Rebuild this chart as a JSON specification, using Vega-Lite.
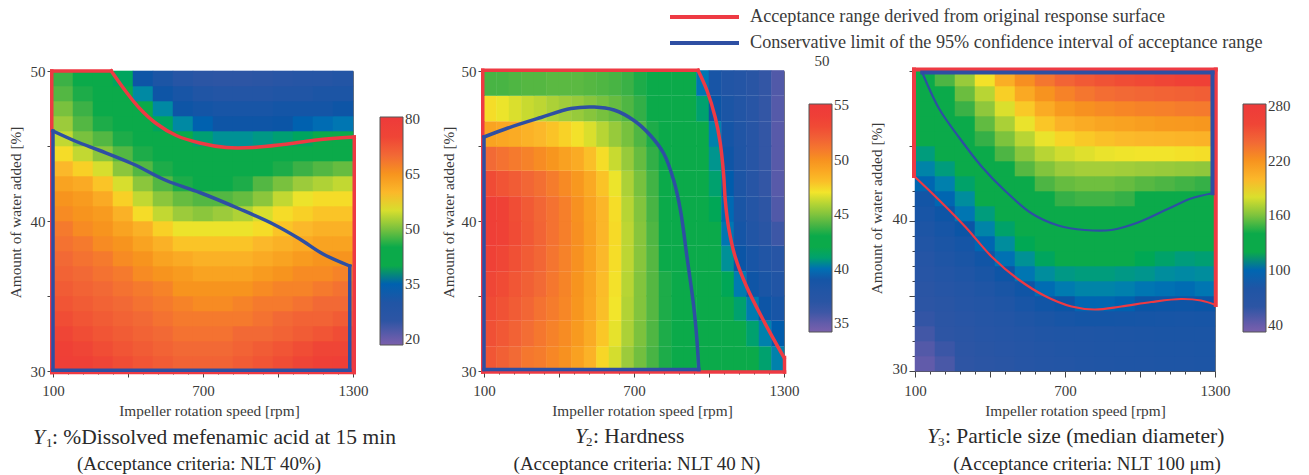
{"$schema":"https://vega.github.io/schema/vega-lite/v6.json","padding":{"left":7,"top":8,"right":0,"bottom":0},"bounds":"flush","spacing":131,"background":"white","resolve":{"scale":{"fill":"independent","stroke":"independent","x":"independent","y":"independent"},"legend":{"fill":"independent","stroke":"independent"}},"config":{"view":{"stroke":"#777"},"font":"Liberation Serif","axis":{"grid":false,"labelFont":"Liberation Serif","titleFont":"Liberation Serif","labelColor":"#3a3a3a","titleColor":"#3a3a3a","tickColor":"#444","domainColor":"#555","labelFontSize":15,"titleFontSize":15.3,"titleFontWeight":"normal","labelOverlap":false,"labelFlush":false,"tickCount":60},"legend":{"labelFont":"Liberation Serif","labelColor":"#3a3a3a","labelFontSize":15,"gradientLength":228,"gradientThickness":23,"gradientStrokeColor":"#555","gradientStrokeWidth":1,"labelOffset":5,"labelOverlap":false}},"hconcat":[
{"width":300,"height":300,"layer":[
{"data":{"values":[
{"x":140,"y":30.5,"v":77},{"x":220,"y":30.5,"v":76},{"x":300,"y":30.5,"v":75},{"x":380,"y":30.5,"v":74},{"x":460,"y":30.5,"v":73},{"x":540,"y":30.5,"v":72},{"x":620,"y":30.5,"v":71},{"x":700,"y":30.5,"v":71},{"x":780,"y":30.5,"v":71},{"x":860,"y":30.5,"v":72},{"x":940,"y":30.5,"v":73},{"x":1020,"y":30.5,"v":74},{"x":1100,"y":30.5,"v":75},{"x":1180,"y":30.5,"v":76},{"x":1260,"y":30.5,"v":77},
{"x":140,"y":31.5,"v":76},{"x":220,"y":31.5,"v":75},{"x":300,"y":31.5,"v":74},{"x":380,"y":31.5,"v":73},{"x":460,"y":31.5,"v":72},{"x":540,"y":31.5,"v":71},{"x":620,"y":31.5,"v":70},{"x":700,"y":31.5,"v":70},{"x":780,"y":31.5,"v":70},{"x":860,"y":31.5,"v":71},{"x":940,"y":31.5,"v":72},{"x":1020,"y":31.5,"v":73},{"x":1100,"y":31.5,"v":74},{"x":1180,"y":31.5,"v":75},{"x":1260,"y":31.5,"v":75},
{"x":140,"y":32.5,"v":75},{"x":220,"y":32.5,"v":74},{"x":300,"y":32.5,"v":73},{"x":380,"y":32.5,"v":72},{"x":460,"y":32.5,"v":71},{"x":540,"y":32.5,"v":70},{"x":620,"y":32.5,"v":69},{"x":700,"y":32.5,"v":69},{"x":780,"y":32.5,"v":69},{"x":860,"y":32.5,"v":70},{"x":940,"y":32.5,"v":70},{"x":1020,"y":32.5,"v":71},{"x":1100,"y":32.5,"v":72},{"x":1180,"y":32.5,"v":73},{"x":1260,"y":32.5,"v":74},
{"x":140,"y":33.5,"v":74},{"x":220,"y":33.5,"v":73},{"x":300,"y":33.5,"v":72},{"x":380,"y":33.5,"v":71},{"x":460,"y":33.5,"v":70},{"x":540,"y":33.5,"v":69},{"x":620,"y":33.5,"v":68},{"x":700,"y":33.5,"v":68},{"x":780,"y":33.5,"v":68},{"x":860,"y":33.5,"v":68},{"x":940,"y":33.5,"v":69},{"x":1020,"y":33.5,"v":70},{"x":1100,"y":33.5,"v":71},{"x":1180,"y":33.5,"v":71},{"x":1260,"y":33.5,"v":72},
{"x":140,"y":34.5,"v":73},{"x":220,"y":34.5,"v":72},{"x":300,"y":34.5,"v":71},{"x":380,"y":34.5,"v":70},{"x":460,"y":34.5,"v":69},{"x":540,"y":34.5,"v":68},{"x":620,"y":34.5,"v":67},{"x":700,"y":34.5,"v":66},{"x":780,"y":34.5,"v":66},{"x":860,"y":34.5,"v":67},{"x":940,"y":34.5,"v":68},{"x":1020,"y":34.5,"v":68},{"x":1100,"y":34.5,"v":69},{"x":1180,"y":34.5,"v":70},{"x":1260,"y":34.5,"v":70},
{"x":140,"y":35.5,"v":72},{"x":220,"y":35.5,"v":71},{"x":300,"y":35.5,"v":70},{"x":380,"y":35.5,"v":69},{"x":460,"y":35.5,"v":68},{"x":540,"y":35.5,"v":67},{"x":620,"y":35.5,"v":65},{"x":700,"y":35.5,"v":65},{"x":780,"y":35.5,"v":65},{"x":860,"y":35.5,"v":65},{"x":940,"y":35.5,"v":66},{"x":1020,"y":35.5,"v":67},{"x":1100,"y":35.5,"v":67},{"x":1180,"y":35.5,"v":68},{"x":1260,"y":35.5,"v":69},
{"x":140,"y":36.5,"v":71},{"x":220,"y":36.5,"v":70},{"x":300,"y":36.5,"v":69},{"x":380,"y":36.5,"v":68},{"x":460,"y":36.5,"v":66},{"x":540,"y":36.5,"v":65},{"x":620,"y":36.5,"v":64},{"x":700,"y":36.5,"v":63},{"x":780,"y":36.5,"v":63},{"x":860,"y":36.5,"v":63},{"x":940,"y":36.5,"v":64},{"x":1020,"y":36.5,"v":65},{"x":1100,"y":36.5,"v":66},{"x":1180,"y":36.5,"v":66},{"x":1260,"y":36.5,"v":67},
{"x":140,"y":37.5,"v":70},{"x":220,"y":37.5,"v":69},{"x":300,"y":37.5,"v":68},{"x":380,"y":37.5,"v":66},{"x":460,"y":37.5,"v":65},{"x":540,"y":37.5,"v":63},{"x":620,"y":37.5,"v":62},{"x":700,"y":37.5,"v":61},{"x":780,"y":37.5,"v":61},{"x":860,"y":37.5,"v":61},{"x":940,"y":37.5,"v":62},{"x":1020,"y":37.5,"v":63},{"x":1100,"y":37.5,"v":64},{"x":1180,"y":37.5,"v":65},{"x":1260,"y":37.5,"v":65},
{"x":140,"y":38.5,"v":69},{"x":220,"y":38.5,"v":68},{"x":300,"y":38.5,"v":66},{"x":380,"y":38.5,"v":65},{"x":460,"y":38.5,"v":63},{"x":540,"y":38.5,"v":61},{"x":620,"y":38.5,"v":59},{"x":700,"y":38.5,"v":59},{"x":780,"y":38.5,"v":59},{"x":860,"y":38.5,"v":59},{"x":940,"y":38.5,"v":60},{"x":1020,"y":38.5,"v":61},{"x":1100,"y":38.5,"v":62},{"x":1180,"y":38.5,"v":63},{"x":1260,"y":38.5,"v":63},
{"x":140,"y":39.5,"v":68},{"x":220,"y":39.5,"v":66},{"x":300,"y":39.5,"v":65},{"x":380,"y":39.5,"v":63},{"x":460,"y":39.5,"v":61},{"x":540,"y":39.5,"v":58},{"x":620,"y":39.5,"v":56},{"x":700,"y":39.5,"v":56},{"x":780,"y":39.5,"v":56},{"x":860,"y":39.5,"v":56},{"x":940,"y":39.5,"v":57},{"x":1020,"y":39.5,"v":59},{"x":1100,"y":39.5,"v":60},{"x":1180,"y":39.5,"v":61},{"x":1260,"y":39.5,"v":61},
{"x":140,"y":40.5,"v":66},{"x":220,"y":40.5,"v":65},{"x":300,"y":40.5,"v":64},{"x":380,"y":40.5,"v":61},{"x":460,"y":40.5,"v":57},{"x":540,"y":40.5,"v":54},{"x":620,"y":40.5,"v":52},{"x":700,"y":40.5,"v":51},{"x":780,"y":40.5,"v":52},{"x":860,"y":40.5,"v":53},{"x":940,"y":40.5,"v":55},{"x":1020,"y":40.5,"v":57},{"x":1100,"y":40.5,"v":58},{"x":1180,"y":40.5,"v":59},{"x":1260,"y":40.5,"v":59},
{"x":140,"y":41.5,"v":65},{"x":220,"y":41.5,"v":64},{"x":300,"y":41.5,"v":62},{"x":380,"y":41.5,"v":58},{"x":460,"y":41.5,"v":54},{"x":540,"y":41.5,"v":51},{"x":620,"y":41.5,"v":49},{"x":700,"y":41.5,"v":48},{"x":780,"y":41.5,"v":48},{"x":860,"y":41.5,"v":49},{"x":940,"y":41.5,"v":51},{"x":1020,"y":41.5,"v":54},{"x":1100,"y":41.5,"v":56},{"x":1180,"y":41.5,"v":57},{"x":1260,"y":41.5,"v":57},
{"x":140,"y":42.5,"v":63},{"x":220,"y":42.5,"v":62},{"x":300,"y":42.5,"v":59},{"x":380,"y":42.5,"v":55},{"x":460,"y":42.5,"v":51},{"x":540,"y":42.5,"v":48},{"x":620,"y":42.5,"v":46},{"x":700,"y":42.5,"v":45},{"x":780,"y":42.5,"v":45},{"x":860,"y":42.5,"v":46},{"x":940,"y":42.5,"v":48},{"x":1020,"y":42.5,"v":50},{"x":1100,"y":42.5,"v":52},{"x":1180,"y":42.5,"v":53},{"x":1260,"y":42.5,"v":54},
{"x":140,"y":43.5,"v":60},{"x":220,"y":43.5,"v":58},{"x":300,"y":43.5,"v":55},{"x":380,"y":43.5,"v":51},{"x":460,"y":43.5,"v":48},{"x":540,"y":43.5,"v":46},{"x":620,"y":43.5,"v":44},{"x":700,"y":43.5,"v":44},{"x":780,"y":43.5,"v":44},{"x":860,"y":43.5,"v":44},{"x":940,"y":43.5,"v":45},{"x":1020,"y":43.5,"v":46},{"x":1100,"y":43.5,"v":47},{"x":1180,"y":43.5,"v":48},{"x":1260,"y":43.5,"v":49},
{"x":140,"y":44.5,"v":57},{"x":220,"y":44.5,"v":54},{"x":300,"y":44.5,"v":51},{"x":380,"y":44.5,"v":48},{"x":460,"y":44.5,"v":46},{"x":540,"y":44.5,"v":45},{"x":620,"y":44.5,"v":44},{"x":700,"y":44.5,"v":42},{"x":780,"y":44.5,"v":41},{"x":860,"y":44.5,"v":41},{"x":940,"y":44.5,"v":41},{"x":1020,"y":44.5,"v":42},{"x":1100,"y":44.5,"v":42},{"x":1180,"y":44.5,"v":42},{"x":1260,"y":44.5,"v":43},
{"x":140,"y":45.5,"v":54},{"x":220,"y":45.5,"v":50},{"x":300,"y":45.5,"v":48},{"x":380,"y":45.5,"v":46},{"x":460,"y":45.5,"v":45},{"x":540,"y":45.5,"v":42},{"x":620,"y":45.5,"v":40},{"x":700,"y":45.5,"v":38.5},{"x":780,"y":45.5,"v":37.5},{"x":860,"y":45.5,"v":37.5},{"x":940,"y":45.5,"v":38},{"x":1020,"y":45.5,"v":38.5},{"x":1100,"y":45.5,"v":39},{"x":1180,"y":45.5,"v":39.5},{"x":1260,"y":45.5,"v":39.5},
{"x":140,"y":46.5,"v":52},{"x":220,"y":46.5,"v":48},{"x":300,"y":46.5,"v":46},{"x":380,"y":46.5,"v":44},{"x":460,"y":46.5,"v":43},{"x":540,"y":46.5,"v":39},{"x":620,"y":46.5,"v":37},{"x":700,"y":46.5,"v":35},{"x":780,"y":46.5,"v":34},{"x":860,"y":46.5,"v":34},{"x":940,"y":46.5,"v":34},{"x":1020,"y":46.5,"v":34.5},{"x":1100,"y":46.5,"v":35},{"x":1180,"y":46.5,"v":35.5},{"x":1260,"y":46.5,"v":36},
{"x":140,"y":47.5,"v":50},{"x":220,"y":47.5,"v":47},{"x":300,"y":47.5,"v":45},{"x":380,"y":47.5,"v":44},{"x":460,"y":47.5,"v":40},{"x":540,"y":47.5,"v":37},{"x":620,"y":47.5,"v":34},{"x":700,"y":47.5,"v":33},{"x":780,"y":47.5,"v":32},{"x":860,"y":47.5,"v":32},{"x":940,"y":47.5,"v":32},{"x":1020,"y":47.5,"v":33},{"x":1100,"y":47.5,"v":33},{"x":1180,"y":47.5,"v":33},{"x":1260,"y":47.5,"v":34},
{"x":140,"y":48.5,"v":48},{"x":220,"y":48.5,"v":46},{"x":300,"y":48.5,"v":44},{"x":380,"y":48.5,"v":42},{"x":460,"y":48.5,"v":37},{"x":540,"y":48.5,"v":34},{"x":620,"y":48.5,"v":32},{"x":700,"y":48.5,"v":30},{"x":780,"y":48.5,"v":29},{"x":860,"y":48.5,"v":29},{"x":940,"y":48.5,"v":29},{"x":1020,"y":48.5,"v":30},{"x":1100,"y":48.5,"v":30},{"x":1180,"y":48.5,"v":31},{"x":1260,"y":48.5,"v":31},
{"x":140,"y":49.5,"v":47},{"x":220,"y":49.5,"v":45},{"x":300,"y":49.5,"v":43},{"x":380,"y":49.5,"v":39},{"x":460,"y":49.5,"v":34},{"x":540,"y":49.5,"v":31},{"x":620,"y":49.5,"v":28},{"x":700,"y":49.5,"v":26},{"x":780,"y":49.5,"v":25},{"x":860,"y":49.5,"v":25},{"x":940,"y":49.5,"v":26},{"x":1020,"y":49.5,"v":27},{"x":1100,"y":49.5,"v":28},{"x":1180,"y":49.5,"v":28},{"x":1260,"y":49.5,"v":29}
]},"mark":{"type":"rect","width":20.5,"height":15.6},"encoding":{"x":{"field":"x","type":"quantitative","scale":{"domain":[100,1300],"nice":false,"zero":false},"axis":{"title":"Impeller rotation speed [rpm]","titleX":156,"values":[100,160,220,280,340,400,460,520,580,640,700,760,820,880,940,1000,1060,1120,1180,1240,1300],"labelOverlap":false,"labelExpr":"datum.value==100||datum.value==700||datum.value==1300?datum.label:''","format":"d","tickSize":{"condition":{"test":"(datum.value-100)%300==0","value":6},"value":3},"labelPadding":6,"titlePadding":5}},"y":{"field":"y","type":"quantitative","scale":{"domain":[30,50],"nice":false,"zero":false},"axis":{"title":"Amount of water added [%]","format":"d","values":[30,31,32,33,34,35,36,37,38,39,40,41,42,43,44,45,46,47,48,49,50],"labelOverlap":false,"labelExpr":"datum.value%10==0?datum.label:''","tickSize":{"condition":{"test":"datum.value%5==0","value":6},"value":3},"labelPadding":2,"titleX":-30,"titleY":141}},"fill":{"field":"v","type":"quantitative","scale":{"domain":[18.4,24.6,34.5,39.5,45.7,52,56.3,60,65,69.9,75.5,80.5],"range":["#7A60AC","#2E55A4","#0B55A6","#0BAA4A","#0BAA4A","#9CCB3B","#F2E52B","#FBB82A","#F7941E","#F26A35","#EF4136","#EE3A3A"]},"legend":{"title":null,"orient":"none","legendX":327,"legendY":46,"values":[20,35,50,65,80]}}}},
{"data":{"values":[
{"s":"r","g":"e1","o":0,"x":95,"y":29.9},{"s":"r","g":"e1","o":1,"x":95,"y":50},{"s":"r","g":"e2","o":2,"x":95,"y":50},{"s":"r","g":"e2","o":3,"x":333,"y":50},{"s":"r","g":"c","o":4,"x":333,"y":50},{"s":"r","g":"c","o":5,"x":393,"y":48.6},{"s":"r","g":"c","o":6,"x":447,"y":47.5},{"s":"r","g":"c","o":7,"x":513,"y":46.5},{"s":"r","g":"c","o":8,"x":593,"y":45.7},{"s":"r","g":"c","o":9,"x":687,"y":45.2},{"s":"r","g":"c","o":10,"x":793,"y":44.9},{"s":"r","g":"c","o":11,"x":900,"y":44.9},{"s":"r","g":"c","o":12,"x":1020,"y":45.1},{"s":"r","g":"c","o":13,"x":1153,"y":45.4},{"s":"r","g":"c","o":14,"x":1305,"y":45.6},{"s":"r","g":"e3","o":15,"x":1305,"y":45.6},{"s":"r","g":"e3","o":16,"x":1305,"y":29.9},{"s":"r","g":"e4","o":17,"x":1305,"y":29.9},{"s":"r","g":"e4","o":18,"x":95,"y":29.9},
{"s":"b","g":"e1","o":0,"x":100,"y":30.05},{"s":"b","g":"e1","o":1,"x":100,"y":46},{"s":"b","g":"c","o":2,"x":100,"y":46},{"s":"b","g":"c","o":3,"x":193,"y":45.3},{"s":"b","g":"c","o":4,"x":287,"y":44.7},{"s":"b","g":"c","o":5,"x":420,"y":43.8},{"s":"b","g":"c","o":6,"x":553,"y":42.7},{"s":"b","g":"c","o":7,"x":687,"y":41.9},{"s":"b","g":"c","o":8,"x":847,"y":40.8},{"s":"b","g":"c","o":9,"x":980,"y":39.8},{"s":"b","g":"c","o":10,"x":1087,"y":38.8},{"s":"b","g":"c","o":11,"x":1180,"y":37.8},{"s":"b","g":"c","o":12,"x":1287,"y":37},{"s":"b","g":"e2","o":13,"x":1287,"y":37},{"s":"b","g":"e2","o":14,"x":1287,"y":30.05},{"s":"b","g":"e3","o":15,"x":1287,"y":30.05},{"s":"b","g":"e3","o":16,"x":100,"y":30.05}
]},"mark":{"type":"line","strokeWidth":3.5,"strokeCap":"square","interpolate":"catmull-rom"},"encoding":{"x":{"field":"x","type":"quantitative"},"y":{"field":"y","type":"quantitative"},"order":{"field":"o"},"detail":{"field":"g"},"stroke":{"field":"s","type":"nominal","scale":{"domain":["r","b"],"range":["#EE3A43","#2E4FA3"]},"legend":null}}},
{"data":{"values":[{"x":20,"y":25.53,"t":"Y"}]},"mark":{"type":"text","font":"Liberation Serif","fontSize":21.5,"fontStyle":"italic","align":"left","color":"#2a2a2a"},"encoding":{"x":{"field":"x","type":"quantitative"},"y":{"field":"y","type":"quantitative"},"text":{"field":"t"}}},
{"data":{"values":[{"x":72,"y":25.2,"t":"1"}]},"mark":{"type":"text","font":"Liberation Serif","fontSize":13,"align":"left","color":"#2a2a2a"},"encoding":{"x":{"field":"x","type":"quantitative"},"y":{"field":"y","type":"quantitative"},"text":{"field":"t"}}},
{"data":{"values":[{"x":96,"y":25.53,"t":": %Dissolved mefenamic acid at 15 min"}]},"mark":{"type":"text","font":"Liberation Serif","fontSize":21.5,"align":"left","color":"#2a2a2a"},"encoding":{"x":{"field":"x","type":"quantitative"},"y":{"field":"y","type":"quantitative"},"text":{"field":"t"}}},
{"data":{"values":[{"x":684,"y":23.8,"t":"(Acceptance criteria: NLT 40%)"}]},"mark":{"type":"text","font":"Liberation Serif","fontSize":19,"align":"center","color":"#2a2a2a"},"encoding":{"x":{"field":"x","type":"quantitative"},"y":{"field":"y","type":"quantitative"},"text":{"field":"t"}}}
]},
{"width":300,"height":300,"layer":[
{"data":{"values":[
{"x":125,"y":30.8,"v":52.5},{"x":175,"y":30.8,"v":52},{"x":225,"y":30.8,"v":51.5},{"x":275,"y":30.8,"v":51},{"x":325,"y":30.8,"v":50.8},{"x":375,"y":30.8,"v":50.4},{"x":425,"y":30.8,"v":50},{"x":475,"y":30.8,"v":49.3},{"x":525,"y":30.8,"v":48.5},{"x":575,"y":30.8,"v":47.4},{"x":625,"y":30.8,"v":46.5},{"x":675,"y":30.8,"v":45.5},{"x":725,"y":30.8,"v":44.7},{"x":775,"y":30.8,"v":44},{"x":825,"y":30.8,"v":43.5},{"x":875,"y":30.8,"v":43.3},{"x":925,"y":30.8,"v":43.2},{"x":975,"y":30.8,"v":43},{"x":1025,"y":30.8,"v":42.8},{"x":1075,"y":30.8,"v":42.5},{"x":1125,"y":30.8,"v":42},{"x":1175,"y":30.8,"v":41.6},{"x":1225,"y":30.8,"v":41},{"x":1275,"y":30.8,"v":40.3},
{"x":125,"y":32.5,"v":52.8},{"x":175,"y":32.5,"v":52.4},{"x":225,"y":32.5,"v":51.9},{"x":275,"y":32.5,"v":51.4},{"x":325,"y":32.5,"v":51},{"x":375,"y":32.5,"v":50.6},{"x":425,"y":32.5,"v":50.2},{"x":475,"y":32.5,"v":49.6},{"x":525,"y":32.5,"v":48.8},{"x":575,"y":32.5,"v":47.8},{"x":625,"y":32.5,"v":46.8},{"x":675,"y":32.5,"v":45.8},{"x":725,"y":32.5,"v":44.9},{"x":775,"y":32.5,"v":44.1},{"x":825,"y":32.5,"v":43.5},{"x":875,"y":32.5,"v":43.2},{"x":925,"y":32.5,"v":43},{"x":975,"y":32.5,"v":42.8},{"x":1025,"y":32.5,"v":42.4},{"x":1075,"y":32.5,"v":42.2},{"x":1125,"y":32.5,"v":41.8},{"x":1175,"y":32.5,"v":41},{"x":1225,"y":32.5,"v":40.3},{"x":1275,"y":32.5,"v":39.7},
{"x":125,"y":34.2,"v":53},{"x":175,"y":34.2,"v":52.7},{"x":225,"y":34.2,"v":52.2},{"x":275,"y":34.2,"v":51.7},{"x":325,"y":34.2,"v":51.2},{"x":375,"y":34.2,"v":50.8},{"x":425,"y":34.2,"v":50.4},{"x":475,"y":34.2,"v":49.8},{"x":525,"y":34.2,"v":49},{"x":575,"y":34.2,"v":48},{"x":625,"y":34.2,"v":47},{"x":675,"y":34.2,"v":45.9},{"x":725,"y":34.2,"v":45},{"x":775,"y":34.2,"v":44.2},{"x":825,"y":34.2,"v":43.5},{"x":875,"y":34.2,"v":43.1},{"x":925,"y":34.2,"v":42.8},{"x":975,"y":34.2,"v":42.5},{"x":1025,"y":34.2,"v":42.2},{"x":1075,"y":34.2,"v":41.6},{"x":1125,"y":34.2,"v":41},{"x":1175,"y":34.2,"v":40.2},{"x":1225,"y":34.2,"v":39.5},{"x":1275,"y":34.2,"v":38.8},
{"x":125,"y":35.8,"v":53.2},{"x":175,"y":35.8,"v":53},{"x":225,"y":35.8,"v":52.5},{"x":275,"y":35.8,"v":52},{"x":325,"y":35.8,"v":51.5},{"x":375,"y":35.8,"v":51},{"x":425,"y":35.8,"v":50.5},{"x":475,"y":35.8,"v":49.9},{"x":525,"y":35.8,"v":49.1},{"x":575,"y":35.8,"v":48.1},{"x":625,"y":35.8,"v":47.1},{"x":675,"y":35.8,"v":46},{"x":725,"y":35.8,"v":45},{"x":775,"y":35.8,"v":44.2},{"x":825,"y":35.8,"v":43.5},{"x":875,"y":35.8,"v":43},{"x":925,"y":35.8,"v":42.7},{"x":975,"y":35.8,"v":42.4},{"x":1025,"y":35.8,"v":42},{"x":1075,"y":35.8,"v":41.2},{"x":1125,"y":35.8,"v":40.2},{"x":1175,"y":35.8,"v":39.4},{"x":1225,"y":35.8,"v":38.6},{"x":1275,"y":35.8,"v":38},
{"x":125,"y":37.5,"v":53.5},{"x":175,"y":37.5,"v":53.2},{"x":225,"y":37.5,"v":52.8},{"x":275,"y":37.5,"v":52.2},{"x":325,"y":37.5,"v":51.7},{"x":375,"y":37.5,"v":51.1},{"x":425,"y":37.5,"v":50.6},{"x":475,"y":37.5,"v":50},{"x":525,"y":37.5,"v":49.2},{"x":575,"y":37.5,"v":48.2},{"x":625,"y":37.5,"v":47.2},{"x":675,"y":37.5,"v":46.1},{"x":725,"y":37.5,"v":45.1},{"x":775,"y":37.5,"v":44.2},{"x":825,"y":37.5,"v":43.4},{"x":875,"y":37.5,"v":43},{"x":925,"y":37.5,"v":42.6},{"x":975,"y":37.5,"v":42.2},{"x":1025,"y":37.5,"v":41.6},{"x":1075,"y":37.5,"v":40.6},{"x":1125,"y":37.5,"v":39.6},{"x":1175,"y":37.5,"v":38.8},{"x":1225,"y":37.5,"v":38},{"x":1275,"y":37.5,"v":37.2},
{"x":125,"y":39.2,"v":53.8},{"x":175,"y":39.2,"v":53.5},{"x":225,"y":39.2,"v":53},{"x":275,"y":39.2,"v":52.4},{"x":325,"y":39.2,"v":51.8},{"x":375,"y":39.2,"v":51.2},{"x":425,"y":39.2,"v":50.7},{"x":475,"y":39.2,"v":50.1},{"x":525,"y":39.2,"v":49.3},{"x":575,"y":39.2,"v":48.3},{"x":625,"y":39.2,"v":47.3},{"x":675,"y":39.2,"v":46.1},{"x":725,"y":39.2,"v":45.1},{"x":775,"y":39.2,"v":44.1},{"x":825,"y":39.2,"v":43.4},{"x":875,"y":39.2,"v":42.9},{"x":925,"y":39.2,"v":42.5},{"x":975,"y":39.2,"v":42},{"x":1025,"y":39.2,"v":41.4},{"x":1075,"y":39.2,"v":40.1},{"x":1125,"y":39.2,"v":39},{"x":1175,"y":39.2,"v":38},{"x":1225,"y":39.2,"v":37},{"x":1275,"y":39.2,"v":36},
{"x":125,"y":40.8,"v":53.8},{"x":175,"y":40.8,"v":53.4},{"x":225,"y":40.8,"v":52.9},{"x":275,"y":40.8,"v":52.3},{"x":325,"y":40.8,"v":51.7},{"x":375,"y":40.8,"v":51.2},{"x":425,"y":40.8,"v":50.7},{"x":475,"y":40.8,"v":50},{"x":525,"y":40.8,"v":49.2},{"x":575,"y":40.8,"v":48.3},{"x":625,"y":40.8,"v":47.2},{"x":675,"y":40.8,"v":46},{"x":725,"y":40.8,"v":45},{"x":775,"y":40.8,"v":44},{"x":825,"y":40.8,"v":43.3},{"x":875,"y":40.8,"v":42.8},{"x":925,"y":40.8,"v":42.3},{"x":975,"y":40.8,"v":41.9},{"x":1025,"y":40.8,"v":41.2},{"x":1075,"y":40.8,"v":39.9},{"x":1125,"y":40.8,"v":38.6},{"x":1175,"y":40.8,"v":37.6},{"x":1225,"y":40.8,"v":36.4},{"x":1275,"y":40.8,"v":35.5},
{"x":125,"y":42.5,"v":53},{"x":175,"y":42.5,"v":52.6},{"x":225,"y":42.5,"v":52.2},{"x":275,"y":42.5,"v":51.7},{"x":325,"y":42.5,"v":51.3},{"x":375,"y":42.5,"v":50.8},{"x":425,"y":42.5,"v":50.3},{"x":475,"y":42.5,"v":49.7},{"x":525,"y":42.5,"v":48.9},{"x":575,"y":42.5,"v":47.9},{"x":625,"y":42.5,"v":46.9},{"x":675,"y":42.5,"v":45.8},{"x":725,"y":42.5,"v":44.8},{"x":775,"y":42.5,"v":43.9},{"x":825,"y":42.5,"v":43.2},{"x":875,"y":42.5,"v":42.7},{"x":925,"y":42.5,"v":42.2},{"x":975,"y":42.5,"v":41.8},{"x":1025,"y":42.5,"v":41},{"x":1075,"y":42.5,"v":39.7},{"x":1125,"y":42.5,"v":38.4},{"x":1175,"y":42.5,"v":37.3},{"x":1225,"y":42.5,"v":36.2},{"x":1275,"y":42.5,"v":35.3},
{"x":125,"y":44.2,"v":51.5},{"x":175,"y":44.2,"v":51.2},{"x":225,"y":44.2,"v":50.9},{"x":275,"y":44.2,"v":50.6},{"x":325,"y":44.2,"v":50.2},{"x":375,"y":44.2,"v":49.8},{"x":425,"y":44.2,"v":49.3},{"x":475,"y":44.2,"v":48.8},{"x":525,"y":44.2,"v":48},{"x":575,"y":44.2,"v":47.2},{"x":625,"y":44.2,"v":46.3},{"x":675,"y":44.2,"v":45.4},{"x":725,"y":44.2,"v":44.5},{"x":775,"y":44.2,"v":43.7},{"x":825,"y":44.2,"v":43.1},{"x":875,"y":44.2,"v":42.6},{"x":925,"y":44.2,"v":42.1},{"x":975,"y":44.2,"v":41.7},{"x":1025,"y":44.2,"v":40.7},{"x":1075,"y":44.2,"v":39.4},{"x":1125,"y":44.2,"v":38.2},{"x":1175,"y":44.2,"v":37.2},{"x":1225,"y":44.2,"v":36.2},{"x":1275,"y":44.2,"v":35.3},
{"x":125,"y":45.8,"v":49.2},{"x":175,"y":45.8,"v":49},{"x":225,"y":45.8,"v":48.8},{"x":275,"y":45.8,"v":48.5},{"x":325,"y":45.8,"v":48.2},{"x":375,"y":45.8,"v":47.9},{"x":425,"y":45.8,"v":47.5},{"x":475,"y":45.8,"v":47.1},{"x":525,"y":45.8,"v":46.6},{"x":575,"y":45.8,"v":46},{"x":625,"y":45.8,"v":45.4},{"x":675,"y":45.8,"v":44.8},{"x":725,"y":45.8,"v":44.1},{"x":775,"y":45.8,"v":43.5},{"x":825,"y":45.8,"v":43},{"x":875,"y":45.8,"v":42.5},{"x":925,"y":45.8,"v":42},{"x":975,"y":45.8,"v":41.5},{"x":1025,"y":45.8,"v":40.3},{"x":1075,"y":45.8,"v":39},{"x":1125,"y":45.8,"v":38.1},{"x":1175,"y":45.8,"v":37.2},{"x":1225,"y":45.8,"v":36.2},{"x":1275,"y":45.8,"v":35.3},
{"x":125,"y":47.5,"v":47.2},{"x":175,"y":47.5,"v":46.9},{"x":225,"y":47.5,"v":46.6},{"x":275,"y":47.5,"v":46.3},{"x":325,"y":47.5,"v":46.1},{"x":375,"y":47.5,"v":45.8},{"x":425,"y":47.5,"v":45.6},{"x":475,"y":47.5,"v":45.4},{"x":525,"y":47.5,"v":45.1},{"x":575,"y":47.5,"v":44.8},{"x":625,"y":47.5,"v":44.5},{"x":675,"y":47.5,"v":44.1},{"x":725,"y":47.5,"v":43.7},{"x":775,"y":47.5,"v":43.3},{"x":825,"y":47.5,"v":42.9},{"x":875,"y":47.5,"v":42.4},{"x":925,"y":47.5,"v":41.8},{"x":975,"y":47.5,"v":41},{"x":1025,"y":47.5,"v":39.6},{"x":1075,"y":47.5,"v":38.5},{"x":1125,"y":47.5,"v":37.9},{"x":1175,"y":47.5,"v":37.1},{"x":1225,"y":47.5,"v":36.2},{"x":1275,"y":47.5,"v":35.4},
{"x":125,"y":49.2,"v":44},{"x":175,"y":49.2,"v":44},{"x":225,"y":49.2,"v":44.1},{"x":275,"y":49.2,"v":44.2},{"x":325,"y":49.2,"v":44.2},{"x":375,"y":49.2,"v":44.3},{"x":425,"y":49.2,"v":44.3},{"x":475,"y":49.2,"v":44.3},{"x":525,"y":49.2,"v":44.2},{"x":575,"y":49.2,"v":44.1},{"x":625,"y":49.2,"v":44},{"x":675,"y":49.2,"v":43.8},{"x":725,"y":49.2,"v":43.5},{"x":775,"y":49.2,"v":43.2},{"x":825,"y":49.2,"v":42.8},{"x":875,"y":49.2,"v":42.2},{"x":925,"y":49.2,"v":41.5},{"x":975,"y":49.2,"v":40.1},{"x":1025,"y":49.2,"v":38.8},{"x":1075,"y":49.2,"v":38},{"x":1125,"y":49.2,"v":37.6},{"x":1175,"y":49.2,"v":37},{"x":1225,"y":49.2,"v":36.2},{"x":1275,"y":49.2,"v":35.5}
]},"mark":{"type":"rect","width":13,"height":25.6},"encoding":{"x":{"field":"x","type":"quantitative","scale":{"domain":[100,1300],"nice":false,"zero":false},"axis":{"title":"Impeller rotation speed [rpm]","titleX":158,"values":[100,160,220,280,340,400,460,520,580,640,700,760,820,880,940,1000,1060,1120,1180,1240,1300],"labelOverlap":false,"labelExpr":"datum.value==100||datum.value==700||datum.value==1300?datum.label:''","format":"d","tickSize":{"condition":{"test":"(datum.value-100)%300==0","value":6},"value":3},"labelPadding":6,"titlePadding":5}},"y":{"field":"y","type":"quantitative","scale":{"domain":[30,50],"nice":false,"zero":false},"axis":{"title":"Amount of water added [%]","format":"d","values":[30,31,32,33,34,35,36,37,38,39,40,41,42,43,44,45,46,47,48,49,50],"labelOverlap":false,"labelExpr":"datum.value%10==0?datum.label:''","tickSize":{"condition":{"test":"datum.value%5==0","value":6},"value":3},"labelPadding":2,"titleX":-28,"titleY":141}},"fill":{"field":"v","type":"quantitative","scale":{"domain":[34.2,36.3,39.6,41.3,43.4,45.5,47,48.2,49.9,51.5,53.4,55.1],"range":["#7A60AC","#2E55A4","#0B55A6","#0BAA4A","#0BAA4A","#9CCB3B","#F2E52B","#FBB82A","#F7941E","#F26A35","#EF4136","#EE3A3A"]},"legend":{"title":null,"orient":"none","legendX":325,"legendY":33,"values":[35,40,45,50,55]}}}},
{"data":{"values":[
{"s":"r","g":"e1","o":0,"x":95,"y":29.93},{"s":"r","g":"e1","o":1,"x":95,"y":50.05},{"s":"r","g":"e2","o":2,"x":95,"y":50.05},{"s":"r","g":"e2","o":3,"x":956,"y":50.05},{"s":"r","g":"c","o":4,"x":956,"y":50.05},{"s":"r","g":"c","o":5,"x":992,"y":48.7},{"s":"r","g":"c","o":6,"x":1025,"y":46.9},{"s":"r","g":"c","o":7,"x":1045,"y":45.2},{"s":"r","g":"c","o":8,"x":1058,"y":43.2},{"s":"r","g":"c","o":9,"x":1065,"y":41.4},{"s":"r","g":"c","o":10,"x":1078,"y":39.6},{"s":"r","g":"c","o":11,"x":1105,"y":37.6},{"s":"r","g":"c","o":12,"x":1151,"y":35.6},{"s":"r","g":"c","o":13,"x":1217,"y":33.4},{"s":"r","g":"c","o":14,"x":1300,"y":30.9},{"s":"r","g":"e3","o":15,"x":1302,"y":30.9},{"s":"r","g":"e3","o":16,"x":1302,"y":29.93},{"s":"r","g":"e4","o":17,"x":1302,"y":29.93},{"s":"r","g":"e4","o":18,"x":95,"y":29.93},
{"s":"b","g":"e1","o":0,"x":100,"y":30.1},{"s":"b","g":"e1","o":1,"x":100,"y":45.6},{"s":"b","g":"c","o":2,"x":100,"y":45.6},{"s":"b","g":"c","o":3,"x":196,"y":46.2},{"s":"b","g":"c","o":4,"x":328,"y":46.9},{"s":"b","g":"c","o":5,"x":448,"y":47.5},{"s":"b","g":"c","o":6,"x":541,"y":47.6},{"s":"b","g":"c","o":7,"x":620,"y":47.4},{"s":"b","g":"c","o":8,"x":700,"y":46.7},{"s":"b","g":"c","o":9,"x":766,"y":45.7},{"s":"b","g":"c","o":10,"x":819,"y":44.5},{"s":"b","g":"c","o":11,"x":859,"y":42.7},{"s":"b","g":"c","o":12,"x":886,"y":40.7},{"s":"b","g":"c","o":13,"x":912,"y":37.6},{"s":"b","g":"c","o":14,"x":939,"y":34.3},{"s":"b","g":"c","o":15,"x":952,"y":32},{"s":"b","g":"c","o":16,"x":959,"y":30.1},{"s":"b","g":"e2","o":17,"x":959,"y":30.1},{"s":"b","g":"e2","o":18,"x":100,"y":30.1}
]},"mark":{"type":"line","strokeWidth":3.5,"strokeCap":"square","interpolate":"catmull-rom"},"encoding":{"x":{"field":"x","type":"quantitative"},"y":{"field":"y","type":"quantitative"},"order":{"field":"o"},"detail":{"field":"g"},"stroke":{"field":"s","type":"nominal","scale":{"domain":["r","b"],"range":["#EE3A43","#2E4FA3"]},"legend":{"title":null,"orient":"none","legendX":184,"legendY":-62,"symbolType":"stroke","symbolSize":4761,"symbolStrokeWidth":4,"clipHeight":16,"rowPadding":7,"labelFontSize":18.2,"labelLimit":700,"labelOffset":9,"labelExpr":"datum.label=='r'?'Acceptance range derived from original response surface':'Conservative limit of the 95% confidence interval of acceptance range'"}}}},
{"data":{"values":[{"x":1452,"y":50.67,"t":"50"}]},"mark":{"type":"text","font":"Liberation Serif","fontSize":15,"color":"#3a3a3a"},"encoding":{"x":{"field":"x","type":"quantitative"},"y":{"field":"y","type":"quantitative"},"text":{"field":"t"}}},
{"data":{"values":[{"x":464,"y":25.6,"t":"Y"}]},"mark":{"type":"text","font":"Liberation Serif","fontSize":21.5,"fontStyle":"italic","align":"left","color":"#2a2a2a"},"encoding":{"x":{"field":"x","type":"quantitative"},"y":{"field":"y","type":"quantitative"},"text":{"field":"t"}}},
{"data":{"values":[{"x":508,"y":25.27,"t":"2"}]},"mark":{"type":"text","font":"Liberation Serif","fontSize":13,"align":"left","color":"#2a2a2a"},"encoding":{"x":{"field":"x","type":"quantitative"},"y":{"field":"y","type":"quantitative"},"text":{"field":"t"}}},
{"data":{"values":[{"x":536,"y":25.6,"t":": Hardness"}]},"mark":{"type":"text","font":"Liberation Serif","fontSize":21.5,"align":"left","color":"#2a2a2a"},"encoding":{"x":{"field":"x","type":"quantitative"},"y":{"field":"y","type":"quantitative"},"text":{"field":"t"}}},
{"data":{"values":[{"x":712,"y":23.8,"t":"(Acceptance criteria: NLT 40 N)"}]},"mark":{"type":"text","font":"Liberation Serif","fontSize":19,"align":"center","color":"#2a2a2a"},"encoding":{"x":{"field":"x","type":"quantitative"},"y":{"field":"y","type":"quantitative"},"text":{"field":"t"}}}
]},
{"width":300,"height":300,"layer":[
{"data":{"values":[
{"x":140,"y":30.5,"v":42},{"x":220,"y":30.5,"v":50},{"x":300,"y":30.5,"v":57},{"x":380,"y":30.5,"v":62},{"x":460,"y":30.5,"v":66},{"x":540,"y":30.5,"v":70},{"x":620,"y":30.5,"v":73},{"x":700,"y":30.5,"v":75},{"x":780,"y":30.5,"v":77},{"x":860,"y":30.5,"v":78},{"x":940,"y":30.5,"v":79},{"x":1020,"y":30.5,"v":80},{"x":1100,"y":30.5,"v":81},{"x":1180,"y":30.5,"v":81},{"x":1260,"y":30.5,"v":82},
{"x":140,"y":31.5,"v":47},{"x":220,"y":31.5,"v":54},{"x":300,"y":31.5,"v":60},{"x":380,"y":31.5,"v":65},{"x":460,"y":31.5,"v":69},{"x":540,"y":31.5,"v":72},{"x":620,"y":31.5,"v":75},{"x":700,"y":31.5,"v":77},{"x":780,"y":31.5,"v":78},{"x":860,"y":31.5,"v":79},{"x":940,"y":31.5,"v":80},{"x":1020,"y":31.5,"v":81},{"x":1100,"y":31.5,"v":82},{"x":1180,"y":31.5,"v":82},{"x":1260,"y":31.5,"v":83},
{"x":140,"y":32.5,"v":52},{"x":220,"y":32.5,"v":58},{"x":300,"y":32.5,"v":64},{"x":380,"y":32.5,"v":68},{"x":460,"y":32.5,"v":72},{"x":540,"y":32.5,"v":75},{"x":620,"y":32.5,"v":78},{"x":700,"y":32.5,"v":79},{"x":780,"y":32.5,"v":80},{"x":860,"y":32.5,"v":81},{"x":940,"y":32.5,"v":82},{"x":1020,"y":32.5,"v":83},{"x":1100,"y":32.5,"v":84},{"x":1180,"y":32.5,"v":84},{"x":1260,"y":32.5,"v":84},
{"x":140,"y":33.5,"v":56},{"x":220,"y":33.5,"v":62},{"x":300,"y":33.5,"v":67},{"x":380,"y":33.5,"v":71},{"x":460,"y":33.5,"v":75},{"x":540,"y":33.5,"v":79},{"x":620,"y":33.5,"v":84},{"x":700,"y":33.5,"v":88},{"x":780,"y":33.5,"v":91},{"x":860,"y":33.5,"v":91},{"x":940,"y":33.5,"v":90},{"x":1020,"y":33.5,"v":89},{"x":1100,"y":33.5,"v":88},{"x":1180,"y":33.5,"v":87},{"x":1260,"y":33.5,"v":88},
{"x":140,"y":34.5,"v":60},{"x":220,"y":34.5,"v":66},{"x":300,"y":34.5,"v":71},{"x":380,"y":34.5,"v":75},{"x":460,"y":34.5,"v":80},{"x":540,"y":34.5,"v":87},{"x":620,"y":34.5,"v":93},{"x":700,"y":34.5,"v":97},{"x":780,"y":34.5,"v":100},{"x":860,"y":34.5,"v":100},{"x":940,"y":34.5,"v":99},{"x":1020,"y":34.5,"v":97},{"x":1100,"y":34.5,"v":96},{"x":1180,"y":34.5,"v":95},{"x":1260,"y":34.5,"v":97},
{"x":140,"y":35.5,"v":64},{"x":220,"y":35.5,"v":70},{"x":300,"y":35.5,"v":75},{"x":380,"y":35.5,"v":80},{"x":460,"y":35.5,"v":86},{"x":540,"y":35.5,"v":94},{"x":620,"y":35.5,"v":101},{"x":700,"y":35.5,"v":104},{"x":780,"y":35.5,"v":106},{"x":860,"y":35.5,"v":106},{"x":940,"y":35.5,"v":105},{"x":1020,"y":35.5,"v":103},{"x":1100,"y":35.5,"v":102},{"x":1180,"y":35.5,"v":101},{"x":1260,"y":35.5,"v":103},
{"x":140,"y":36.5,"v":68},{"x":220,"y":36.5,"v":74},{"x":300,"y":36.5,"v":80},{"x":380,"y":36.5,"v":86},{"x":460,"y":36.5,"v":95},{"x":540,"y":36.5,"v":103},{"x":620,"y":36.5,"v":108},{"x":700,"y":36.5,"v":111},{"x":780,"y":36.5,"v":112},{"x":860,"y":36.5,"v":112},{"x":940,"y":36.5,"v":111},{"x":1020,"y":36.5,"v":110},{"x":1100,"y":36.5,"v":108},{"x":1180,"y":36.5,"v":107},{"x":1260,"y":36.5,"v":108},
{"x":140,"y":37.5,"v":72},{"x":220,"y":37.5,"v":79},{"x":300,"y":37.5,"v":85},{"x":380,"y":37.5,"v":93},{"x":460,"y":37.5,"v":102},{"x":540,"y":37.5,"v":109},{"x":620,"y":37.5,"v":115},{"x":700,"y":37.5,"v":117},{"x":780,"y":37.5,"v":118},{"x":860,"y":37.5,"v":118},{"x":940,"y":37.5,"v":117},{"x":1020,"y":37.5,"v":116},{"x":1100,"y":37.5,"v":114},{"x":1180,"y":37.5,"v":112},{"x":1260,"y":37.5,"v":113},
{"x":140,"y":38.5,"v":77},{"x":220,"y":38.5,"v":84},{"x":300,"y":38.5,"v":90},{"x":380,"y":38.5,"v":100},{"x":460,"y":38.5,"v":108},{"x":540,"y":38.5,"v":116},{"x":620,"y":38.5,"v":121},{"x":700,"y":38.5,"v":123},{"x":780,"y":38.5,"v":124},{"x":860,"y":38.5,"v":124},{"x":940,"y":38.5,"v":123},{"x":1020,"y":38.5,"v":122},{"x":1100,"y":38.5,"v":119},{"x":1180,"y":38.5,"v":117},{"x":1260,"y":38.5,"v":118},
{"x":140,"y":39.5,"v":82},{"x":220,"y":39.5,"v":89},{"x":300,"y":39.5,"v":97},{"x":380,"y":39.5,"v":106},{"x":460,"y":39.5,"v":114},{"x":540,"y":39.5,"v":122},{"x":620,"y":39.5,"v":128},{"x":700,"y":39.5,"v":129},{"x":780,"y":39.5,"v":131},{"x":860,"y":39.5,"v":131},{"x":940,"y":39.5,"v":130},{"x":1020,"y":39.5,"v":127},{"x":1100,"y":39.5,"v":124},{"x":1180,"y":39.5,"v":122},{"x":1260,"y":39.5,"v":122},
{"x":140,"y":40.5,"v":87},{"x":220,"y":40.5,"v":95},{"x":300,"y":40.5,"v":103},{"x":380,"y":40.5,"v":112},{"x":460,"y":40.5,"v":120},{"x":540,"y":40.5,"v":128},{"x":620,"y":40.5,"v":133},{"x":700,"y":40.5,"v":137},{"x":780,"y":40.5,"v":139},{"x":860,"y":40.5,"v":139},{"x":940,"y":40.5,"v":137},{"x":1020,"y":40.5,"v":133},{"x":1100,"y":40.5,"v":129},{"x":1180,"y":40.5,"v":127},{"x":1260,"y":40.5,"v":126},
{"x":140,"y":41.5,"v":92},{"x":220,"y":41.5,"v":100},{"x":300,"y":41.5,"v":108},{"x":380,"y":41.5,"v":118},{"x":460,"y":41.5,"v":126},{"x":540,"y":41.5,"v":134},{"x":620,"y":41.5,"v":141},{"x":700,"y":41.5,"v":146},{"x":780,"y":41.5,"v":148},{"x":860,"y":41.5,"v":148},{"x":940,"y":41.5,"v":146},{"x":1020,"y":41.5,"v":142},{"x":1100,"y":41.5,"v":136},{"x":1180,"y":41.5,"v":131},{"x":1260,"y":41.5,"v":129},
{"x":140,"y":42.5,"v":100},{"x":220,"y":42.5,"v":105},{"x":300,"y":42.5,"v":114},{"x":380,"y":42.5,"v":124},{"x":460,"y":42.5,"v":132},{"x":540,"y":42.5,"v":142},{"x":620,"y":42.5,"v":150},{"x":700,"y":42.5,"v":155},{"x":780,"y":42.5,"v":157},{"x":860,"y":42.5,"v":157},{"x":940,"y":42.5,"v":155},{"x":1020,"y":42.5,"v":152},{"x":1100,"y":42.5,"v":150},{"x":1180,"y":42.5,"v":148},{"x":1260,"y":42.5,"v":146},
{"x":140,"y":43.5,"v":106},{"x":220,"y":43.5,"v":112},{"x":300,"y":43.5,"v":120},{"x":380,"y":43.5,"v":131},{"x":460,"y":43.5,"v":141},{"x":540,"y":43.5,"v":152},{"x":620,"y":43.5,"v":161},{"x":700,"y":43.5,"v":167},{"x":780,"y":43.5,"v":169},{"x":860,"y":43.5,"v":169},{"x":940,"y":43.5,"v":168},{"x":1020,"y":43.5,"v":167},{"x":1100,"y":43.5,"v":166},{"x":1180,"y":43.5,"v":165},{"x":1260,"y":43.5,"v":164},
{"x":140,"y":44.5,"v":112},{"x":220,"y":44.5,"v":118},{"x":300,"y":44.5,"v":125},{"x":380,"y":44.5,"v":138},{"x":460,"y":44.5,"v":150},{"x":540,"y":44.5,"v":163},{"x":620,"y":44.5,"v":173},{"x":700,"y":44.5,"v":178},{"x":780,"y":44.5,"v":181},{"x":860,"y":44.5,"v":183},{"x":940,"y":44.5,"v":184},{"x":1020,"y":44.5,"v":185},{"x":1100,"y":44.5,"v":185},{"x":1180,"y":44.5,"v":186},{"x":1260,"y":44.5,"v":187},
{"x":140,"y":45.5,"v":118},{"x":220,"y":45.5,"v":124},{"x":300,"y":45.5,"v":131},{"x":380,"y":45.5,"v":146},{"x":460,"y":45.5,"v":160},{"x":540,"y":45.5,"v":173},{"x":620,"y":45.5,"v":183},{"x":700,"y":45.5,"v":190},{"x":780,"y":45.5,"v":194},{"x":860,"y":45.5,"v":197},{"x":940,"y":45.5,"v":199},{"x":1020,"y":45.5,"v":200},{"x":1100,"y":45.5,"v":201},{"x":1180,"y":45.5,"v":202},{"x":1260,"y":45.5,"v":203},
{"x":140,"y":46.5,"v":123},{"x":220,"y":46.5,"v":129},{"x":300,"y":46.5,"v":139},{"x":380,"y":46.5,"v":154},{"x":460,"y":46.5,"v":170},{"x":540,"y":46.5,"v":183},{"x":620,"y":46.5,"v":195},{"x":700,"y":46.5,"v":203},{"x":780,"y":46.5,"v":207},{"x":860,"y":46.5,"v":210},{"x":940,"y":46.5,"v":212},{"x":1020,"y":46.5,"v":214},{"x":1100,"y":46.5,"v":216},{"x":1180,"y":46.5,"v":217},{"x":1260,"y":46.5,"v":218},
{"x":140,"y":47.5,"v":128},{"x":220,"y":47.5,"v":134},{"x":300,"y":47.5,"v":147},{"x":380,"y":47.5,"v":164},{"x":460,"y":47.5,"v":180},{"x":540,"y":47.5,"v":194},{"x":620,"y":47.5,"v":207},{"x":700,"y":47.5,"v":216},{"x":780,"y":47.5,"v":221},{"x":860,"y":47.5,"v":224},{"x":940,"y":47.5,"v":226},{"x":1020,"y":47.5,"v":228},{"x":1100,"y":47.5,"v":229},{"x":1180,"y":47.5,"v":231},{"x":1260,"y":47.5,"v":232},
{"x":140,"y":48.5,"v":134},{"x":220,"y":48.5,"v":142},{"x":300,"y":48.5,"v":156},{"x":380,"y":48.5,"v":173},{"x":460,"y":48.5,"v":192},{"x":540,"y":48.5,"v":208},{"x":620,"y":48.5,"v":220},{"x":700,"y":48.5,"v":228},{"x":780,"y":48.5,"v":234},{"x":860,"y":48.5,"v":238},{"x":940,"y":48.5,"v":240},{"x":1020,"y":48.5,"v":242},{"x":1100,"y":48.5,"v":244},{"x":1180,"y":48.5,"v":245},{"x":1260,"y":48.5,"v":247},
{"x":140,"y":49.5,"v":141},{"x":220,"y":49.5,"v":150},{"x":300,"y":49.5,"v":166},{"x":380,"y":49.5,"v":186},{"x":460,"y":49.5,"v":205},{"x":540,"y":49.5,"v":222},{"x":620,"y":49.5,"v":234},{"x":700,"y":49.5,"v":243},{"x":780,"y":49.5,"v":249},{"x":860,"y":49.5,"v":253},{"x":940,"y":49.5,"v":256},{"x":1020,"y":49.5,"v":258},{"x":1100,"y":49.5,"v":260},{"x":1180,"y":49.5,"v":262},{"x":1260,"y":49.5,"v":264}
]},"mark":{"type":"rect","width":20.5,"height":15.6},"encoding":{"x":{"field":"x","type":"quantitative","scale":{"domain":[100,1300],"nice":false,"zero":false},"axis":{"title":"Impeller rotation speed [rpm]","titleX":160,"values":[100,160,220,280,340,400,460,520,580,640,700,760,820,880,940,1000,1060,1120,1180,1240,1300],"labelOverlap":false,"labelExpr":"datum.value==100||datum.value==700||datum.value==1300?datum.label:''","format":"d","tickSize":{"condition":{"test":"(datum.value-100)%300==0","value":6},"value":3},"labelPadding":6,"titlePadding":5}},"y":{"field":"y","type":"quantitative","scale":{"domain":[30,50],"nice":false,"zero":false},"axis":{"title":"Amount of water added [%]","format":"d","values":[30,31,32,33,34,35,36,37,38,39,40,41,42,43,44,45,46,47,48,49,50],"labelOverlap":false,"labelExpr":"datum.value==30||datum.value==40?datum.label:''","tickSize":{"condition":{"test":"datum.value%5==0","value":6},"value":3},"labelPadding":2,"labelOffset":-3,"titleX":-31,"titleY":137}},"fill":{"field":"v","type":"quantitative","scale":{"domain":[32.3,57,97,117,142,167,184.6,199.6,219.5,239.5,262,282],"range":["#7A60AC","#2E55A4","#0B55A6","#0BAA4A","#0BAA4A","#9CCB3B","#F2E52B","#FBB82A","#F7941E","#F26A35","#EF4136","#EE3A3A"]},"legend":{"title":null,"orient":"none","legendX":328,"legendY":33,"values":[40,100,160,220,280]}}}},
{"data":{"values":[
{"s":"r","g":"e1","o":0,"x":96,"y":43},{"s":"r","g":"e1","o":1,"x":96,"y":50.1},{"s":"r","g":"e2","o":2,"x":96,"y":50.1},{"s":"r","g":"e2","o":3,"x":1303,"y":50.1},{"s":"r","g":"e3","o":4,"x":1303,"y":50.1},{"s":"r","g":"e3","o":5,"x":1303,"y":34.4},{"s":"r","g":"c","o":6,"x":1303,"y":34.4},{"s":"r","g":"c","o":7,"x":1244,"y":34.7},{"s":"r","g":"c","o":8,"x":1164,"y":34.8},{"s":"r","g":"c","o":9,"x":1045,"y":34.6},{"s":"r","g":"c","o":10,"x":925,"y":34.3},{"s":"r","g":"c","o":11,"x":819,"y":34.1},{"s":"r","g":"c","o":12,"x":726,"y":34.3},{"s":"r","g":"c","o":13,"x":620,"y":35},{"s":"r","g":"c","o":14,"x":514,"y":36.1},{"s":"r","g":"c","o":15,"x":408,"y":37.6},{"s":"r","g":"c","o":16,"x":302,"y":39.6},{"s":"r","g":"c","o":17,"x":196,"y":41.4},{"s":"r","g":"c","o":18,"x":96,"y":43},
{"s":"b","g":"e1","o":0,"x":129,"y":49.9},{"s":"b","g":"e1","o":1,"x":1290,"y":49.9},{"s":"b","g":"e2","o":2,"x":1290,"y":49.9},{"s":"b","g":"e2","o":3,"x":1290,"y":41.85},{"s":"b","g":"c","o":4,"x":1290,"y":41.85},{"s":"b","g":"c","o":5,"x":1204,"y":41.5},{"s":"b","g":"c","o":6,"x":1111,"y":40.8},{"s":"b","g":"c","o":7,"x":992,"y":39.9},{"s":"b","g":"c","o":8,"x":886,"y":39.4},{"s":"b","g":"c","o":9,"x":779,"y":39.4},{"s":"b","g":"c","o":10,"x":673,"y":39.7},{"s":"b","g":"c","o":11,"x":567,"y":40.5},{"s":"b","g":"c","o":12,"x":461,"y":42},{"s":"b","g":"c","o":13,"x":368,"y":43.6},{"s":"b","g":"c","o":14,"x":275,"y":45.6},{"s":"b","g":"c","o":15,"x":196,"y":47.5},{"s":"b","g":"c","o":16,"x":129,"y":49.9}
]},"mark":{"type":"line","strokeCap":"square","interpolate":"catmull-rom"},"encoding":{"x":{"field":"x","type":"quantitative"},"y":{"field":"y","type":"quantitative"},"order":{"field":"o"},"detail":{"field":"g"},"strokeWidth":{"condition":{"test":"datum.g=='c'","value":2.2},"value":4},"stroke":{"field":"s","type":"nominal","scale":{"domain":["r","b"],"range":["#EE3A43","#2E4FA3"]},"legend":null}}},
{"data":{"values":[{"x":148,"y":25.6,"t":"Y"}]},"mark":{"type":"text","font":"Liberation Serif","fontSize":21.5,"fontStyle":"italic","align":"left","color":"#2a2a2a"},"encoding":{"x":{"field":"x","type":"quantitative"},"y":{"field":"y","type":"quantitative"},"text":{"field":"t"}}},
{"data":{"values":[{"x":192,"y":25.27,"t":"3"}]},"mark":{"type":"text","font":"Liberation Serif","fontSize":13,"align":"left","color":"#2a2a2a"},"encoding":{"x":{"field":"x","type":"quantitative"},"y":{"field":"y","type":"quantitative"},"text":{"field":"t"}}},
{"data":{"values":[{"x":220,"y":25.6,"t":": Particle size (median diameter)"}]},"mark":{"type":"text","font":"Liberation Serif","fontSize":21.5,"align":"left","color":"#2a2a2a"},"encoding":{"x":{"field":"x","type":"quantitative"},"y":{"field":"y","type":"quantitative"},"text":{"field":"t"}}},
{"data":{"values":[{"x":788,"y":23.8,"t":"(Acceptance criteria: NLT 100 μm)"}]},"mark":{"type":"text","font":"Liberation Serif","fontSize":19,"align":"center","color":"#2a2a2a"},"encoding":{"x":{"field":"x","type":"quantitative"},"y":{"field":"y","type":"quantitative"},"text":{"field":"t"}}}
]}
]}
